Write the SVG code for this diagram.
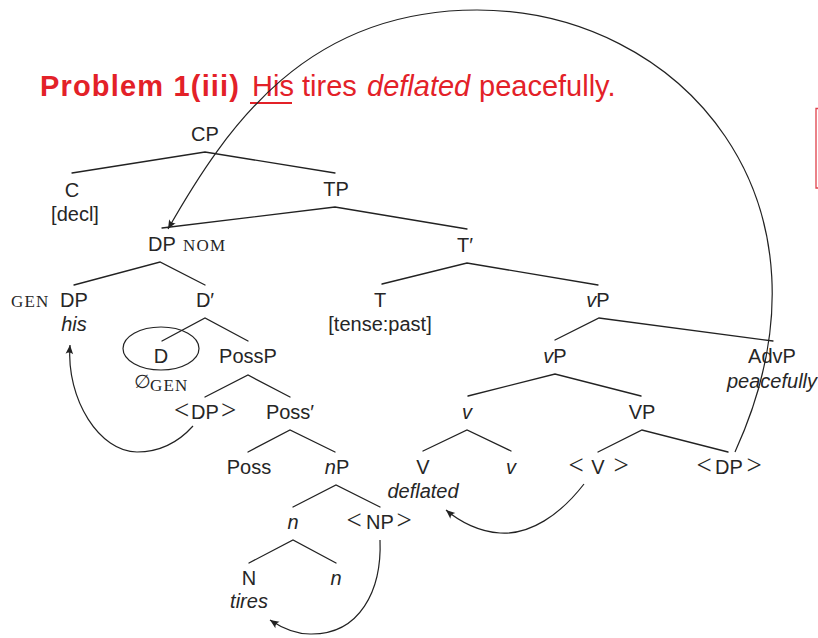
<svg xmlns="http://www.w3.org/2000/svg" width="818" height="638" viewBox="0 0 818 638">
<style>
.n{font-family:"Liberation Sans",Arial,sans-serif;font-size:20px;fill:#262626;text-anchor:middle}
.i{font-style:italic}
.m{font-family:"Liberation Serif","Times New Roman",serif;font-size:27px}
.sc{font-family:"Liberation Serif","Times New Roman",serif;font-size:17px;fill:#262626;letter-spacing:1.2px}
.e{stroke:#222;stroke-width:1.3;fill:none;stroke-linecap:round}
.a{stroke:#222;stroke-width:1.2;fill:none}
.t{font-family:"Liberation Sans",Arial,sans-serif;font-size:29px;fill:#e32128}
</style>
<defs>
<marker id="ah" viewBox="-10 -5 12 10" refX="0" refY="0" markerWidth="12" markerHeight="10" markerUnits="userSpaceOnUse" orient="auto">
<path d="M0,0 L-9,-3.8 Q-6,0 -9,3.8 Z" fill="#222"/>
</marker>
</defs>
<rect width="818" height="638" fill="#fff"/>
<g id="title">
<text class="t" x="40" y="96" font-weight="bold" font-size="30" textLength="199" lengthAdjust="spacing">Problem 1(iii)</text>
<text class="t" x="252" y="96">His</text>
<text class="t" x="302" y="96">tires</text>
<text class="t i" x="367" y="96">deflated</text>
<text class="t" x="479" y="96">peacefully.</text>
<line x1="250" y1="103" x2="292" y2="103" stroke="#e32128" stroke-width="2"/>
</g>
<g id="bracket">
<path d="M818,108.5 H816 V188 H818" stroke="#e0404a" stroke-width="1.3" fill="none"/>
</g>
<g id="connectors">
<path class="e" d="M72,173 L205,152 L335,173"/>
<path class="e" d="M162,228 L335,207 L467,229"/>
<path class="e" d="M74,285 L160,262 L205,285"/>
<path class="e" d="M382,284 L467,263 L598,285"/>
<path class="e" d="M162,341 L205,318 L248,341"/>
<path class="e" d="M555,340 L599,318 L773,341"/>
<path class="e" d="M205,397 L248,375 L290,397"/>
<path class="e" d="M468,396 L555,374 L641,396"/>
<path class="e" d="M248,452 L290,430 L335,452"/>
<path class="e" d="M423,451 L467,430 L511,451"/>
<path class="e" d="M598,452 L642,430 L728,452"/>
<path class="e" d="M293,507 L336,485 L380,507"/>
<path class="e" d="M249,563 L293,540 L336,563"/>
<path class="a" marker-end="url(#ah)" d="M193,426 C175,446 155,452 137,452 C100,452 66,400 70,345"/>
<path class="a" marker-end="url(#ah)" d="M380,540 C382,590 360,635 310,634 C295,634 282,628 270,620"/>
<path class="a" marker-end="url(#ah)" d="M584,484 C560,515 530,535 500,533 C480,532 460,522 446,510"/>
<path class="a" marker-end="url(#ah)" d="M735,452 C850,200 680,10 477,10 C307,10 227.4,124.7 168,229"/>
</g>
<g id="CP"><text class="n" x="205" y="141">CP</text></g>
<g id="C"><text class="n" x="72" y="197">C</text><text class="n" x="75" y="221">[decl]</text></g>
<g id="TP"><text class="n" x="336" y="196">TP</text></g>
<g id="DPnom"><text class="n" x="162" y="251">DP</text><text class="sc" x="183" y="251">NOM</text></g>
<g id="Tbar"><text class="n" x="465" y="252">T′</text></g>
<g id="DPgen"><text class="sc" x="11" y="307">GEN</text><text class="n" x="74" y="307">DP</text><text class="n i" x="74" y="331">his</text></g>
<g id="Dbar"><text class="n" x="205" y="307">D′</text></g>
<g id="T"><text class="n" x="380" y="307">T</text><text class="n" x="380" y="331">[tense:past]</text></g>
<g id="vP1"><text class="n" x="598" y="307"><tspan class="i">v</tspan>P</text></g>
<g id="D"><ellipse cx="161" cy="348.5" rx="38" ry="21.5" class="a"/><text class="n" x="161" y="363">D</text>
<text x="134" y="388" font-family="DejaVu Sans,sans-serif" font-size="19" fill="#262626">∅</text><text class="sc" x="150" y="391">GEN</text></g>
<g id="PossP"><text class="n" x="248" y="363">PossP</text></g>
<g id="vP2"><text class="n" x="555" y="363"><tspan class="i">v</tspan>P</text></g>
<g id="AdvP"><text class="n" x="772" y="363">AdvP</text><text class="n i" x="772" y="388">peacefully</text></g>
<g id="DPtrace1"><text class="n" y="419"><tspan class="m" x="181.5">&lt;</tspan><tspan x="205">DP</tspan><tspan class="m" x="228.5">&gt;</tspan></text></g>
<g id="Possbar"><text class="n" x="290" y="419">Poss′</text></g>
<g id="v1"><text class="n i" x="467" y="419">v</text></g>
<g id="VP"><text class="n" x="642" y="419">VP</text></g>
<g id="Poss"><text class="n" x="249" y="474">Poss</text></g>
<g id="nP"><text class="n" x="337" y="474"><tspan class="i">n</tspan>P</text></g>
<g id="V"><text class="n" x="423" y="474">V</text><text class="n i" x="423" y="498">deflated</text></g>
<g id="v2"><text class="n i" x="511" y="474">v</text></g>
<g id="Vtrace"><text class="n" y="474"><tspan class="m" x="576">&lt;</tspan><tspan x="598">V</tspan><tspan class="m" x="621">&gt;</tspan></text></g>
<g id="DPtrace2"><text class="n" y="474"><tspan class="m" x="704">&lt;</tspan><tspan x="729">DP</tspan><tspan class="m" x="754">&gt;</tspan></text></g>
<g id="n1"><text class="n i" x="293" y="529">n</text></g>
<g id="NPtrace"><text class="n" y="529"><tspan class="m" x="354">&lt;</tspan><tspan x="380">NP</tspan><tspan class="m" x="404">&gt;</tspan></text></g>
<g id="N"><text class="n" x="249" y="585">N</text><text class="n i" x="249" y="608">tires</text></g>
<g id="n2"><text class="n i" x="336" y="585">n</text></g>
</svg>
